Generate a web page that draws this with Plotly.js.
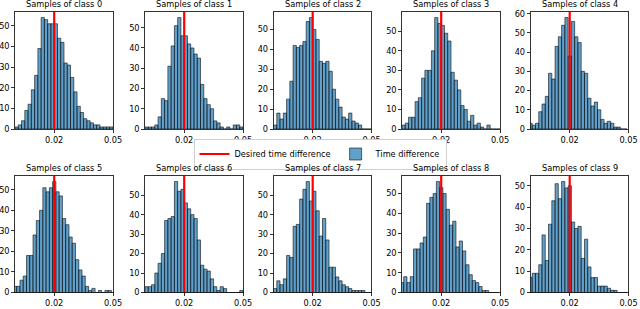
<!DOCTYPE html>
<html><head><meta charset="utf-8">
<script src="https://cdn.plot.ly/plotly-3.0.1.min.js"></script>
<style>html,body{margin:0;padding:0;background:#fff}#chart{width:640px;height:309px}</style>
</head><body><div id="chart"></div>
<script>
const classNames = ['Samples of class 0','Samples of class 1','Samples of class 2','Samples of class 3','Samples of class 4',
                    'Samples of class 5','Samples of class 6','Samples of class 7','Samples of class 8','Samples of class 9'];
const class0Counts = [1,2,4,9,12,19,26,39,54,53,51,51,51,44,42,32,31,25,18,11,8,5,4,3,2,2,1,1,1,1];
const class1Counts = [1,1,1,2,6,15,14,31,41,51,55,46,46,42,40,37,35,22,15,12,10,4,3,1,0,1,0,2,2,1];
const class2Counts = [2,8,5,8,15,24,42,41,42,44,54,56,50,45,34,33,34,29,20,15,11,6,5,8,4,3,2,0,0,0];
const class3Counts = [2,3,6,6,14,16,26,30,30,40,57,54,53,49,45,29,25,20,12,10,4,7,2,3,1,0,2,0,0,0];
const class4Counts = [3,2,3,9,13,17,29,26,43,48,54,58,38,56,48,45,30,29,16,12,14,10,5,3,4,3,1,1,0,0];
const class5Counts = [3,3,6,8,18,18,28,35,40,51,49,51,54,49,47,36,33,27,24,16,11,8,3,1,2,0,1,0,1,1];
const class6Counts = [3,3,4,10,15,20,37,38,39,57,52,53,46,43,40,38,27,14,12,11,7,3,1,3,2,0,0,0,0,1];
const class7Counts = [2,6,4,7,19,18,34,35,48,53,57,47,52,42,29,38,27,13,13,8,6,4,3,2,1,1,1,1,0,0];
const class8Counts = [5,8,5,8,22,22,25,28,45,48,50,56,53,50,42,34,36,23,26,21,14,9,6,5,3,1,1,0,0,0];
const class9Counts = [7,9,9,13,27,15,32,43,51,44,52,49,50,33,30,31,16,25,12,7,7,3,3,3,2,1,1,0,0,0];
const binStarts = [0,0,0,0,-0.0008,-0.0008,0,0,-0.0008,-0.0008];
const binWidth = 0.05/30;
const desiredDiff = 0.02;
const xRange = [0, 0.05];
const xTickVals = [0.02, 0.05];
const xTickText = ['0.02', '0.05'];

const allCounts = [class0Counts,class1Counts,class2Counts,class3Counts,class4Counts,
                   class5Counts,class6Counts,class7Counts,class8Counts,class9Counts];
const W = 640, H = 309;
const colLefts = [15, 145, 273.5, 402, 530.5];
const axW = 98;
const rowTops = [12, 176];
const rowBottoms = [129, 292.5];
const FONT = 'DejaVu Sans, sans-serif';

const traces = [];
const annotations = [];
const layout = {
  width: W, height: H,
  margin: {l:0, r:0, t:0, b:0},
  paper_bgcolor: '#fff', plot_bgcolor: '#fff',
  font: {family: FONT, size: 8.2, color: '#000'},
  showlegend: true,
  legend: {orientation:'h', x:0.5, xanchor:'center', y:1-154/H, yanchor:'middle',
           bordercolor:'#d0d0d0', borderwidth:1, bgcolor:'#fff', itemwidth:30,
           font:{family:FONT, size:8.2, color:'#000'}, traceorder:'normal'},
  annotations: annotations
};
allCounts.forEach((counts, k) => {
  const r = Math.floor(k/5), c = k % 5;
  const ax = k === 0 ? '' : String(k+1);
  const centers = counts.map((_, i) => binStarts[k] + (i + 0.5) * binWidth);
  const ymax = Math.max(...counts) * 1.05;
  traces.push({type:'bar', x:centers, y:counts, width:binWidth, xaxis:'x'+ax, yaxis:'y'+ax,
    marker:{color:'rgba(31,119,180,0.7)', line:{color:'rgba(0,0,0,0.7)', width:0.8}},
    name:'Time difference', showlegend:k===0, legendrank:2, hoverinfo:'skip'});
  traces.push({type:'scatter', mode:'lines', x:[desiredDiff, desiredDiff], y:[0, ymax],
    xaxis:'x'+ax, yaxis:'y'+ax, line:{color:'#ff0000', width:2.2},
    name:'Desired time difference', showlegend:k===0, legendrank:1, hoverinfo:'skip'});
  const common = {ticks:'outside', ticklen:3, tickwidth:0.8, tickcolor:'#000',
    showline:true, mirror:true, linecolor:'#000', linewidth:0.8, showgrid:false, zeroline:false,
    tickfont:{family:FONT, size:8.2, color:'#000'}, fixedrange:true};
  layout['xaxis'+ax] = Object.assign({domain:[colLefts[c]/W, (colLefts[c]+axW)/W], range:xRange,
    anchor:'y'+ax, tickmode:'array', tickvals:xTickVals, ticktext:xTickText}, common);
  layout['yaxis'+ax] = Object.assign({domain:[1-rowBottoms[r]/H, 1-rowTops[r]/H], range:[0, ymax],
    anchor:'x'+ax, tickmode:'linear', tick0:0, dtick:10}, common);
  annotations.push({text:classNames[k], x:(colLefts[c]+axW/2)/W, y:1-rowTops[r]/H,
    xref:'paper', yref:'paper', xanchor:'center', yanchor:'bottom', yshift:1, showarrow:false,
    font:{family:FONT, size:8.2, color:'#000'}});
});
Plotly.newPlot('chart', traces, layout, {displayModeBar:false, staticPlot:true});
</script>
</body></html>
